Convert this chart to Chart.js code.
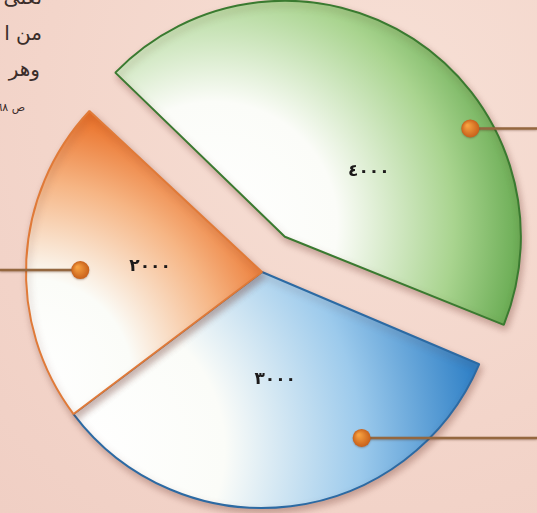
<!DOCTYPE html>
<html lang="ar">
<head>
<meta charset="utf-8">
<script src="https://cdn.jsdelivr.net/npm/chart.js@4"></script>
<style>
  html, body { margin: 0; padding: 0; }
  body {
    width: 537px; height: 513px; overflow: hidden; position: relative;
    background: radial-gradient(circle at 70% 20%, #f7e0d6 0%, #f3d5ca 60%, #f0cfc4 100%);
  }
  canvas { position: absolute; left: 0; top: 0; }
  .note {
    position: absolute; direction: rtl; white-space: nowrap;
    font-family: "DejaVu Sans", sans-serif; color: #3a2d2a; line-height: 1.2;
  }
</style>
</head>
<body>
<div class="note" style="right:495px; top:-15px; font-size:20px;">تعلى</div>
<div class="note" style="right:495px; top:21px; font-size:20px;">من ا</div>
<div class="note" style="right:497px; top:57px; font-size:20px;">وهر</div>
<div class="note" style="right:512px; top:101px; font-size:11px;">ص ٦٨</div>
<canvas id="pie" width="537" height="513"></canvas>
<script>
// slices, clockwise from the upper-left edge
const categories = ['الجزء الأول', 'الجزء الثاني', 'الجزء الثالث'];
const values = [4000, 3000, 2000];

// look of each slice
const fullColors = ['#4a9836', '#2f80c6', '#e8661a'];
const midColors = ['#a9d48f', '#9ccaec', '#f6b584'];
const edgeColors = ['#3a7a30', '#2c6aa3', '#e07a38'];
const explode = [168, 0, 0];
// gradient light spot (relative to centre, in radii) and spread
const gradSpots = [[-0.3, -0.05, 1.45], [-0.77, 0.75, 1.7], [-0.98, 0.46, 1.2]];
// where the value label and the leader dot sit: [fraction of angle, fraction of radius]
const labelSpots = [[0.62, 0.45], [0.5, 0.46], [0.5, 0.475]];
const dotSpots = [[0.667, 0.91], [0.3, 0.82], [0.47, 0.77]];

const R = 236;

function arabicDigits(v) {
  return String(v).replace(/\d/g, d => '٠١٢٣٤٥٦٧٨٩'[d]);
}

function sliceFill(ctx) {
  const i = ctx.dataIndex;
  const a = ctx.chart.chartArea;
  if (!a) return fullColors[i];
  const cx = (a.left + a.right) / 2, cy = (a.top + a.bottom) / 2;
  const s = gradSpots[i];
  const gx = cx + s[0] * R, gy = cy + s[1] * R;
  const g = ctx.chart.ctx.createRadialGradient(gx, gy, 0, gx, gy, s[2] * R);
  g.addColorStop(0, '#ffffff');
  g.addColorStop(0.36, '#fbfcf8');
  g.addColorStop(0.7, midColors[i]);
  g.addColorStop(1, fullColors[i]);
  return g;
}

// geometry of an arc as it is actually drawn (offset moves it by offset/4)
function drawnCentre(arc) {
  const t = (arc.options.offset || 0) / 4;
  const mid = (arc.startAngle + arc.endAngle) / 2;
  return { x: arc.x + Math.cos(mid) * t, y: arc.y + Math.sin(mid) * t };
}
function pointIn(arc, spot) {
  const c = drawnCentre(arc);
  const ang = arc.startAngle + spot[0] * (arc.endAngle - arc.startAngle);
  const r = spot[1] * arc.outerRadius;
  return { x: c.x + Math.cos(ang) * r, y: c.y + Math.sin(ang) * r, ang: ang };
}
function radiusGrowth(arc) {
  const t = (arc.options.offset || 0) / 4;
  return t * (1 - Math.sin(Math.min(Math.PI, arc.endAngle - arc.startAngle)));
}

const pieExtras = {
  id: 'pieExtras',
  beforeDatasetDraw(chart, args) {
    args.meta.data.forEach(arc => {
      arc.$keepR = arc.outerRadius;
      arc.outerRadius -= radiusGrowth(arc);
    });
    const c = chart.ctx;
    c.save();
    c.shadowColor = 'rgba(110, 55, 45, 0.35)';
    c.shadowBlur = 7;
    c.shadowOffsetX = 2;
    c.shadowOffsetY = 4;
  },
  afterDatasetDraw(chart, args) {
    chart.ctx.restore();
    args.meta.data.forEach(arc => { arc.outerRadius = arc.$keepR; });
  },
  afterDatasetsDraw(chart) {
    const c = chart.ctx;
    const arcs = chart.getDatasetMeta(0).data;
    arcs.forEach((arc, i) => {
      // leader line and dot
      const p = pointIn(arc, dotSpots[i]);
      const toX = Math.cos(p.ang) >= 0 ? chart.width : 0;
      c.save();
      c.shadowColor = 'rgba(80, 40, 20, 0.35)';
      c.shadowBlur = 2;
      c.shadowOffsetY = 1;
      c.strokeStyle = '#94673f';
      c.lineWidth = 2.5;
      c.beginPath();
      c.moveTo(p.x, p.y);
      c.lineTo(toX, p.y);
      c.stroke();
      const dg = c.createRadialGradient(p.x - 3, p.y - 3, 1, p.x, p.y, 9);
      dg.addColorStop(0, '#f6a040');
      dg.addColorStop(1, '#c8601a');
      c.fillStyle = dg;
      c.beginPath();
      c.arc(p.x, p.y, 9, 0, Math.PI * 2);
      c.fill();
      c.restore();

      // value label
      const q = pointIn(arc, labelSpots[i]);
      c.save();
      c.fillStyle = '#1c1a1a';
      c.font = 'bold 17px "DejaVu Sans", sans-serif';
      c.textAlign = 'center';
      c.textBaseline = 'middle';
      c.fillText(arabicDigits(values[i]), q.x, q.y);
      c.restore();
    });
  }
};

new Chart(document.getElementById('pie'), {
  type: 'pie',
  data: {
    labels: categories,
    datasets: [{
      data: values,
      backgroundColor: sliceFill,
      borderColor: edgeColors,
      borderWidth: 2,
      offset: explode,
      clip: false
    }]
  },
  options: {
    responsive: false,
    animation: false,
    rotation: -47,
    radius: R,
    layout: { padding: { left: 0, right: 13, top: 31, bottom: 0 } },
    plugins: {
      legend: { display: false },
      tooltip: { enabled: false },
      title: { display: false }
    }
  },
  plugins: [pieExtras]
});
</script>
</body>
</html>
